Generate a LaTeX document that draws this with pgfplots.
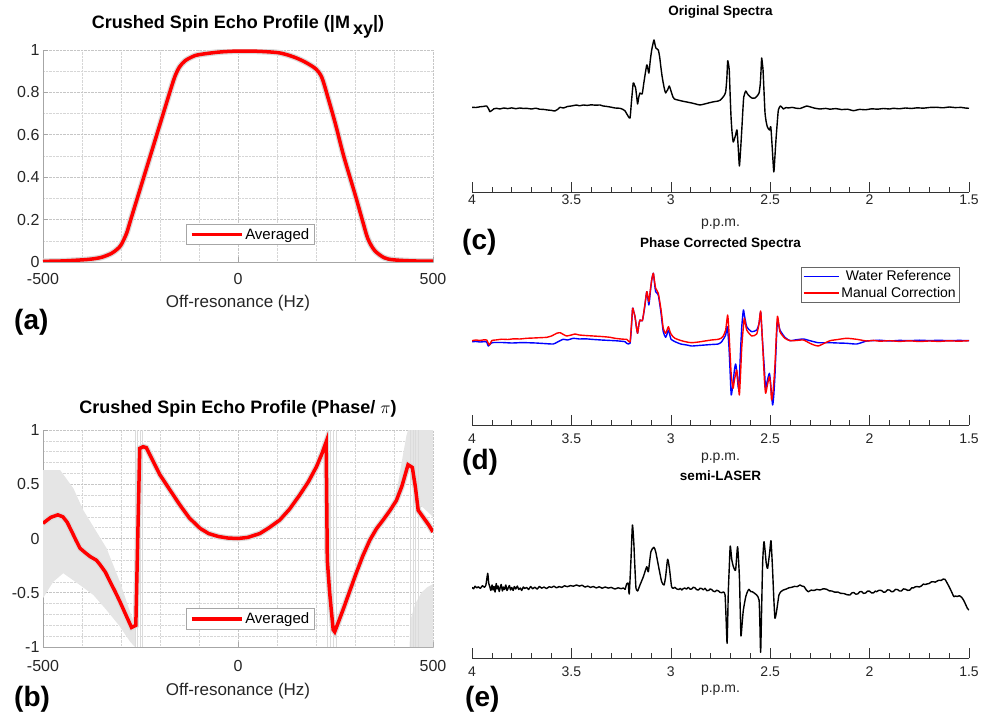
\documentclass[border=0pt]{standalone}
\usepackage{pgfplots}
\pgfplotsset{compat=1.18}
\usepackage{pgfplotstable}
\usepackage{fontspec}
\setmainfont{Liberation Sans}
\newcommand{\fs}[1]{\fontsize{#1}{#1}\selectfont}

\pgfplotsset{
 leftax/.style={scale only axis, anchor=south west, width=390pt,
  xmin=-500, xmax=500, axis x line*=bottom, axis y line*=left,
  axis line style={gray!70, line width=0.8pt},
  tick style={gray!70, line width=0.8pt},
  tick align=inside, major tick length=5pt, minor tick length=0pt,
  xtick={-500,0,500}, minor x tick num=4,
  grid=both, major grid style={densely dotted, gray!45, line width=0.6pt},
  minor grid style={densely dotted, gray!32, line width=0.5pt},
  /pgf/number format/assume math mode=true,
  tick label style={font=\fs{16}, text=black!85},
  xticklabel style={anchor=base, yshift=-23pt},
  xlabel={Off-resonance (Hz)},
  xlabel style={font=\fs{17}, text=black!85, at={(0.5,0)}, anchor=base},
  title style={font=\bfseries\fs{18}, at={(0.5,1)}, anchor=base},
  legend style={font=\fs{15}, draw=gray!70, line width=0.6pt, at={(0.532,0.13)}, anchor=center, inner xsep=3pt, inner ysep=2pt},
  legend image code/.code={\draw[##1] (0pt,0pt) -- (50pt,0pt);},
 },
 specax/.style={scale only axis, anchor=south west, width=497pt,
  xmin=1.5, xmax=4, x dir=reverse, ymin=0,
  axis x line*=bottom, hide y axis,
  axis line style={black!80, line width=0.6pt},
  tick style={black!80, line width=0.6pt},
  xtick={1.5,2,2.5,3,3.5,4}, minor x tick num=4,
  tick align=inside, major tick length=10pt, minor tick length=5pt,
  /pgf/number format/assume math mode=true,
  tick label style={font=\fs{14}, text=black!85},
  xlabel={p.p.m.},
  xlabel style={font=\fs{14}, text=black!85, at={(0.5,0)}, anchor=base, yshift=-35pt},
  title style={font=\bfseries\fs{13.5}, at={(0.5,1)}, anchor=base, yshift=8pt},
 },
 spec/.style={line width=1.4pt, smooth, tension=0.35, line join=round},
}

\pgfplotstableread{
x y
-500 0.003
-450 0.005
-400 0.010
-375 0.014
-350 0.022
-325 0.040
-310 0.060
-300 0.080
-286 0.134
-275 0.200
-250 0.350
-225 0.500
-200 0.650
-175 0.800
-162 0.874
-150 0.920
-135 0.950
-115 0.970
-100 0.978
-50 0.990
0 0.995
50 0.994
100 0.988
125 0.978
150 0.962
175 0.940
200 0.910
215 0.870
230 0.780
250 0.650
271 0.500
300 0.320
320 0.190
333 0.110
350 0.055
375 0.020
400 0.010
450 0.005
500 0.004
}\tabA

\pgfplotstableread{
x y
-500 0.140
-480 0.195
-462 0.218
-449 0.200
-438 0.150
-427 0.070
-415 -0.020
-405 -0.090
-392 -0.130
-379 -0.167
-363 -0.200
-354 -0.240
-340 -0.310
-328 -0.398
-315 -0.490
-303 -0.580
-288 -0.700
-273 -0.820
-262 -0.800
-252 0.830
-243 0.846
-235 0.837
-222 0.744
-200 0.586
-175 0.450
-149 0.309
-125 0.190
-97 0.093
-75 0.045
-50 0.018
-25 0.004
0 0.000
25 0.010
56 0.046
80 0.100
107 0.170
132 0.270
158 0.400
180 0.520
201 0.660
215 0.780
226 0.890
229 -0.200
235 -0.500
244 -0.840
248 -0.860
269 -0.660
286 -0.490
303 -0.320
320 -0.160
338 -0.015
355 0.090
372 0.170
390 0.260
406 0.350
420 0.480
436 0.680
447 0.655
455 0.470
462 0.260
474 0.200
488 0.130
500 0.060
}\tabB

\begin{document}
\begin{tikzpicture}[x=1pt,y=1pt]
\path[use as bounding box] (0,0) rectangle (987,715);

% ---------------- (a)
\begin{axis}[leftax, at={(43pt,453pt)}, height=212pt,
  ymin=0, ymax=1, ytick={0,0.2,0.4,0.6,0.8,1}, minor y tick num=1,
  xlabel style={yshift=-46pt},
  title={Crushed Spin Echo Profile (|M\,\raisebox{-6pt}{xy}|)},
  title style={yshift=15.7pt}]
\addplot[gray!30, line width=6pt, smooth, forget plot] table {\tabA};
\addplot[red, line width=3.5pt, smooth] table {\tabA};
\addlegendentry{Averaged}
\end{axis}

% ---------------- (b)
\begin{axis}[leftax, at={(43pt,68pt)}, height=217pt,
  ymin=-1, ymax=1, ytick={-1,-0.5,0,0.5,1}, minor y tick num=4,
  xlabel style={yshift=-48pt},
  xticklabel style={yshift=-1.7pt},
  title={Crushed Spin Echo Profile (Phase/ $\pi$)},
  title style={yshift=10pt}]
\addplot[fill=gray!20, draw=none, forget plot] coordinates {
(-500,0.63) (-456,0.63) (-422,0.462) (-397,0.263) (-363,0.063) (-337,-0.09)
(-303,-0.398) (-277,-0.674) (-264,-0.797) (-264,-1.0) (-277,-0.95) (-303,-0.81)
(-337,-0.66) (-371,-0.52) (-405,-0.43) (-448,-0.32) (-474,-0.40) (-500,-0.55)} -- cycle;
\addplot[fill=gray!20, draw=none, forget plot] coordinates {
(395,0.30) (410,0.50) (422,0.75) (432,0.95) (436,1) (500,1) (500,0.20) (485,0.25)
(470,0.30) (460,0.42) (450,0.60) (440,0.65) (425,0.50) (405,0.30) (395,0.25)} -- cycle;
\addplot[fill=gray!20, draw=none, forget plot] coordinates {
(440,-1) (442,-0.75) (455,-0.60) (470,-0.50) (485,-0.45) (500,-0.42) (500,-1)} -- cycle;
\addplot[gray!28, line width=0.6pt, forget plot] coordinates {(-264,-1) (-264,1)};
\addplot[gray!28, line width=0.6pt, forget plot] coordinates {(-258,-1) (-258,1)};
\addplot[gray!28, line width=0.6pt, forget plot] coordinates {(-251,-1) (-251,1)};
\addplot[gray!28, line width=0.6pt, forget plot] coordinates {(-245,-1) (-245,1)};
\addplot[gray!28, line width=0.6pt, forget plot] coordinates {(230,-1) (230,1)};
\addplot[gray!28, line width=0.6pt, forget plot] coordinates {(237,-1) (237,1)};
\addplot[gray!28, line width=0.6pt, forget plot] coordinates {(244,-1) (244,1)};
\addplot[gray!28, line width=0.6pt, forget plot] coordinates {(251,-1) (251,1)};
\addplot[gray!28, line width=0.6pt, forget plot] coordinates {(443,-1) (443,1)};
\addplot[gray!28, line width=0.6pt, forget plot] coordinates {(449,-1) (449,1)};
\addplot[gray!28, line width=0.6pt, forget plot] coordinates {(455,-1) (455,1)};
\addplot[gray!28, line width=0.6pt, forget plot] coordinates {(462,-1) (462,1)};
\addplot[gray!28, line width=6pt, forget plot] table {\tabB};
\addplot[red, line width=3.5pt] table {\tabB};
\addlegendentry{Averaged}
\end{axis}

% ---------------- (c)
\begin{axis}[specax, at={(472pt,523pt)}, height=162pt, ymax=162,
  xticklabel style={anchor=base, yshift=-13pt},
  title={Original Spectra}]
\addplot[black, spec] table {
x y
4.000 84.7
3.980 84.5
3.960 85.2
3.940 85.6
3.926 86.0
3.915 82.5
3.910 80.3
3.900 81.5
3.890 83.2
3.876 83.7
3.860 83.0
3.840 84.0
3.820 83.4
3.800 84.1
3.780 83.3
3.760 84.0
3.740 83.5
3.725 83.7
3.700 83.0
3.680 83.8
3.660 82.8
3.640 82.6
3.620 82.0
3.600 81.6
3.583 81.0
3.570 82.5
3.557 84.7
3.540 84.0
3.520 85.5
3.500 86.0
3.474 87.0
3.460 86.2
3.440 87.0
3.420 86.6
3.400 87.2
3.380 86.8
3.356 87.0
3.340 86.0
3.320 85.5
3.300 84.8
3.281 84.0
3.256 83.7
3.240 82.5
3.230 81.0
3.215 76.0
3.205 74.0
3.198 90
3.189 109
3.183 107
3.177 104
3.172 96
3.167 88
3.161 95
3.155 99
3.144 98
3.135 110
3.121 127
3.115 123
3.110 119
3.103 132
3.096 142
3.085 152
3.080 148
3.075 144
3.063 142
3.056 135
3.050 125
3.044 116
3.038 109
3.032 103
3.026 99
3.020 101
3.016 102
3.008 106
3.002 103
2.996 99
2.989 95
2.982 93
2.965 92
2.945 91
2.920 90
2.895 89
2.875 88
2.853 87
2.830 88
2.811 89
2.790 90
2.761 91
2.750 92
2.741 94
2.733 96
2.724 100
2.718 114
2.714 131
2.710 128
2.706 122
2.702 100
2.697 75
2.692 60
2.686 50
2.680 53
2.674 57
2.667 62
2.661 45
2.655 26
2.649 42
2.643 62
2.638 80
2.633 95
2.623 101
2.617 99
2.610 97
2.593 94
2.576 94
2.566 96
2.556 99
2.550 108
2.546 122
2.543 134
2.539 128
2.536 122
2.531 100
2.526 79
2.520 70
2.514 65
2.504 62
2.497 65
2.490 45
2.482 20
2.477 33
2.471 52
2.465 68
2.459 82
2.449 86
2.440 84.5
2.434 83
2.420 84.5
2.409 84
2.390 84.6
2.370 83.8
2.350 83.5
2.330 85
2.317 86
2.300 85.2
2.280 84
2.250 83
2.220 83.6
2.200 82.8
2.170 83.4
2.140 82.4
2.110 82.8
2.082 81.3
2.050 82.6
2.020 82.2
1.990 83.2
1.960 82.8
1.930 83.5
1.900 83.0
1.881 83.7
1.850 83.2
1.820 84.0
1.790 83.5
1.760 84.2
1.730 83.8
1.700 84.5
1.663 84.7
1.630 84.2
1.600 85.0
1.570 84.4
1.540 84.6
1.520 84.0
1.500 83.7
};
\end{axis}

% ---------------- (d)
\begin{axis}[specax, at={(472pt,290pt)}, height=163pt, ymax=163,
  xticklabel style={anchor=base, yshift=-19pt},
  xlabel style={yshift=-0.7pt},
  title={Phase Corrected Spectra},
  legend style={font=\fs{14}, draw=black!60, line width=0.6pt, at={(0.982,0.969)}, anchor=north east, inner xsep=2pt, inner ysep=1.5pt, row sep=0.5pt},
  legend image code/.code={\draw[#1, line width=1.4pt] (0pt,0pt) -- (35pt,0pt);}]
\addplot[blue, spec] table {
x y
4.000 83.3
3.980 83.5
3.960 83.0
3.940 83.3
3.926 83.0
3.918 79.0
3.900 82.3
3.850 82.5
3.800 82.0
3.750 82.4
3.725 82.3
3.680 82.0
3.640 81.5
3.591 81.0
3.570 83.0
3.541 85.7
3.520 85.0
3.490 86.7
3.460 86.0
3.430 86.2
3.400 85.7
3.350 85.0
3.300 84.5
3.281 84.3
3.250 83.8
3.230 83.3
3.222 81.7
3.205 81.7
3.198 98
3.192 116.7
3.186 113
3.180 108.3
3.173 98
3.167 91.7
3.161 100
3.155 105.0
3.143 104.3
3.132 117
3.121 133.3
3.115 126
3.110 120.0
3.103 133
3.096 145.0
3.088 151.7
3.082 142
3.076 133.3
3.063 130.0
3.049 111.7
3.038 93.3
3.026 87.7
3.019 91
3.012 95.0
3.005 90
2.999 85.7
2.990 84.5
2.979 83.3
2.950 81.0
2.920 80.0
2.895 79.0
2.860 79.5
2.828 80.0
2.795 80.5
2.761 81.0
2.745 83.0
2.736 85.7
2.724 90.0
2.716 98.3
2.708 80
2.702 55.0
2.696 30.0
2.687 42.0
2.680 55
2.674 61.0
2.669 55.0
2.660 36.7
2.655 48.0
2.649 75
2.643 98.3
2.635 115.0
2.630 110.0
2.618 98.3
2.593 93.3
2.568 95.0
2.556 101.7
2.548 113.0
2.540 88.0
2.529 55.0
2.523 36.7
2.514 45
2.504 51.7
2.498 42
2.488 20.0
2.482 30
2.476 50.0
2.464 103.3
2.451 95.0
2.426 87.7
2.400 84.3
2.370 85.2
2.333 86.0
2.300 84.3
2.258 82.3
2.199 82.3
2.160 82.0
2.115 81.7
2.065 81.0
2.015 84.0
1.980 84.4
1.950 84.8
1.900 84.0
1.850 84.6
1.800 84.3
1.750 84.8
1.700 84.4
1.650 84.7
1.600 84.3
1.550 84.6
1.500 84.3
};
\addlegendentry{Water Reference}
\addplot[red, spec] table {
x y
4.000 84.3
3.980 85.0
3.960 84.5
3.940 85.2
3.926 85.0
3.913 80.0
3.900 84.5
3.880 85.0
3.850 85.8
3.820 85.5
3.790 86.2
3.760 86.0
3.725 86.7
3.690 87.0
3.660 87.3
3.624 87.7
3.600 89.0
3.574 91.7
3.557 92.3
3.540 90.5
3.524 89.0
3.500 90.0
3.482 91.0
3.460 90.0
3.430 89.5
3.390 89.0
3.350 88.5
3.306 87.7
3.281 86.7
3.250 86.0
3.230 85.7
3.222 85.7
3.205 83.3
3.198 100
3.192 116.7
3.186 113
3.180 108.3
3.173 98
3.167 91.7
3.161 100
3.155 105.0
3.143 104.3
3.132 118
3.121 133.3
3.115 128
3.110 123.3
3.103 135
3.096 145.0
3.088 151.7
3.082 144
3.076 136.7
3.063 131.7
3.049 115.0
3.038 96.7
3.026 91.7
3.019 95
3.012 98.3
3.005 94
2.999 91.0
2.990 88.5
2.979 86.7
2.950 84.5
2.920 83.0
2.895 82.3
2.860 83.0
2.828 84.0
2.795 85.0
2.761 85.7
2.745 87.0
2.736 89.0
2.724 95.0
2.714 110.0
2.708 95
2.702 72.0
2.696 50
2.687 36.7
2.680 45
2.669 55.0
2.664 48
2.660 40.0
2.655 30.0
2.649 52
2.643 78.0
2.635 98.0
2.630 106.7
2.618 95.0
2.593 89.0
2.568 91.0
2.556 101.7
2.548 114.0
2.540 88.0
2.529 45.0
2.523 31.7
2.514 40
2.504 48.3
2.498 40
2.493 25.0
2.485 35
2.476 60.0
2.464 108.3
2.451 93.3
2.426 86.7
2.400 84.3
2.370 84.5
2.333 85.0
2.300 81.7
2.280 80.0
2.258 79.0
2.230 81.5
2.199 84.3
2.160 85.5
2.115 86.7
2.065 85.7
2.015 84.0
1.980 84.6
1.950 83.8
1.900 84.3
1.850 83.6
1.800 84.2
1.750 83.5
1.700 84.0
1.650 83.6
1.600 84.2
1.550 83.8
1.500 84.3
};
\addlegendentry{Manual Correction}
\end{axis}

% ---------------- (e)
\begin{axis}[specax, at={(472pt,57pt)}, height=163pt, ymax=163,
  xticklabel style={anchor=base, yshift=-18.5pt},
  xlabel style={yshift=0.6pt},
  title={semi-LASER}]
\addplot[black, spec] table {
x y
4.000 70.7
3.992 69.2
3.985 71.8
3.976 70.1
3.968 71.2
3.958 69.6
3.948 72.3
3.938 70.8
3.930 73.0
3.921 84.7
3.916 75.0
3.910 71.0
3.905 67.5
3.899 73.0
3.894 68.0
3.889 71.5
3.884 66.0
3.878 74.5
3.874 69.0
3.869 72.0
3.863 66.5
3.858 70.5
3.853 73.5
3.847 67.0
3.842 71.0
3.836 68.5
3.830 73.0
3.824 67.5
3.818 70.0
3.812 72.5
3.806 68.0
3.800 70.5
3.793 67.5
3.787 71.5
3.780 69.0
3.772 72.0
3.765 68.5
3.757 70.0
3.750 67.5
3.742 71.0
3.735 69.5
3.725 70.5
3.715 68.5
3.705 71.5
3.695 69.2
3.684 70.8
3.672 68.9
3.661 71.6
3.650 69.8
3.638 70.9
3.625 69.5
3.612 71.2
3.600 70.6
3.588 71.8
3.575 70.2
3.562 71.4
3.548 70.6
3.535 72.2
3.520 71.3
3.505 72.4
3.490 71.8
3.474 73.0
3.460 71.9
3.446 72.8
3.432 70.9
3.418 71.9
3.404 70.6
3.390 71.5
3.375 70.1
3.360 71.2
3.345 69.8
3.330 71.0
3.315 69.9
3.300 70.6
3.281 69.0
3.265 70.2
3.250 69.3
3.238 70.0
3.230 68.7
3.222 74.0
3.214 74.7
3.209 64.0
3.200 100
3.193 133
3.186 115
3.183 101
3.178 80
3.175 69.7
3.167 67.0
3.155 73.0
3.138 81.3
3.121 91.3
3.113 86.3
3.100 106.3
3.085 110.7
3.076 106.3
3.063 93.0
3.046 76.3
3.034 73.0
3.026 81.3
3.016 98.7
3.007 89.7
2.996 71.3
2.987 69.8
2.979 70.7
2.970 69.0
2.960 68.5
2.952 69.6
2.945 68.0
2.937 69.4
2.930 70.0
2.921 68.9
2.912 70.7
2.903 68.8
2.895 69.0
2.888 70.6
2.880 70.5
2.870 68.3
2.861 68.0
2.853 69.8
2.845 69.5
2.836 68.2
2.828 69.7
2.819 67.4
2.810 67.5
2.802 69.0
2.795 68.5
2.786 66.8
2.778 66.3
2.769 67.8
2.760 67.0
2.752 65.6
2.744 65.3
2.735 66.0
2.727 63.0
2.722 40
2.717 14.7
2.714 35
2.711 64.7
2.706 90
2.701 112
2.693 98
2.685 91.3
2.674 88.0
2.664 111.3
2.655 81.3
2.651 50
2.647 22.0
2.641 35
2.635 48.0
2.623 61.3
2.615 66.0
2.607 68.7
2.598 66.4
2.590 66.3
2.579 64.8
2.568 63.0
2.556 58.0
2.552 35
2.548 5.7
2.543 50
2.538 95
2.531 116.3
2.520 95
2.513 89.7
2.503 105
2.496 117.3
2.488 88.0
2.482 60
2.476 39.7
2.467 48.0
2.456 63.0
2.445 66.5
2.434 68.0
2.420 68.9
2.406 70.2
2.392 70.7
2.378 71.6
2.364 71.4
2.350 73.0
2.340 71.9
2.330 71.5
2.319 68.2
2.308 66.3
2.294 67.9
2.280 67.5
2.265 68.6
2.250 68.0
2.233 69.2
2.216 68.7
2.203 67.2
2.190 67.0
2.175 65.8
2.160 66.0
2.145 64.6
2.130 64.5
2.115 63.4
2.099 63.0
2.089 65.1
2.080 65.5
2.070 63.9
2.060 64.0
2.050 66.2
2.040 66.5
2.030 64.6
2.020 65.0
2.010 66.9
2.000 66.8
1.990 65.0
1.980 65.2
1.972 66.9
1.965 66.3
1.952 67.8
1.940 67.5
1.930 65.8
1.920 66.0
1.910 68.1
1.900 68.0
1.890 66.3
1.880 66.5
1.870 68.6
1.860 68.5
1.850 67.0
1.840 67.0
1.830 69.1
1.820 68.8
1.808 67.6
1.797 68.0
1.788 70.2
1.780 70.0
1.770 71.2
1.760 71.5
1.750 71.0
1.740 72.0
1.730 73.9
1.720 73.5
1.710 74.1
1.700 74.5
1.690 76.1
1.680 76.3
1.670 75.8
1.660 77.0
1.650 77.8
1.640 77.5
1.630 78.9
1.621 78.7
1.610 75.0
1.596 69.7
1.585 65.0
1.576 61.3
1.568 62.0
1.560 61.5
1.548 62.3
1.537 60.7
1.525 57.0
1.508 49.7
1.500 48.0
};
\end{axis}

% panel letters
\node[anchor=base west, inner sep=0pt, font=\bfseries\fs{28}] at (14,385) {(a)};
\node[anchor=base west, inner sep=0pt, font=\bfseries\fs{28}] at (14,8.3) {(b)};
\node[anchor=base west, inner sep=0pt, font=\bfseries\fs{28}] at (462,465) {(c)};
\node[anchor=base west, inner sep=0pt, font=\bfseries\fs{28}] at (462,245) {(d)};
\node[anchor=base west, inner sep=0pt, font=\bfseries\fs{28}] at (465,8.3) {(e)};
\end{tikzpicture}
\end{document}
